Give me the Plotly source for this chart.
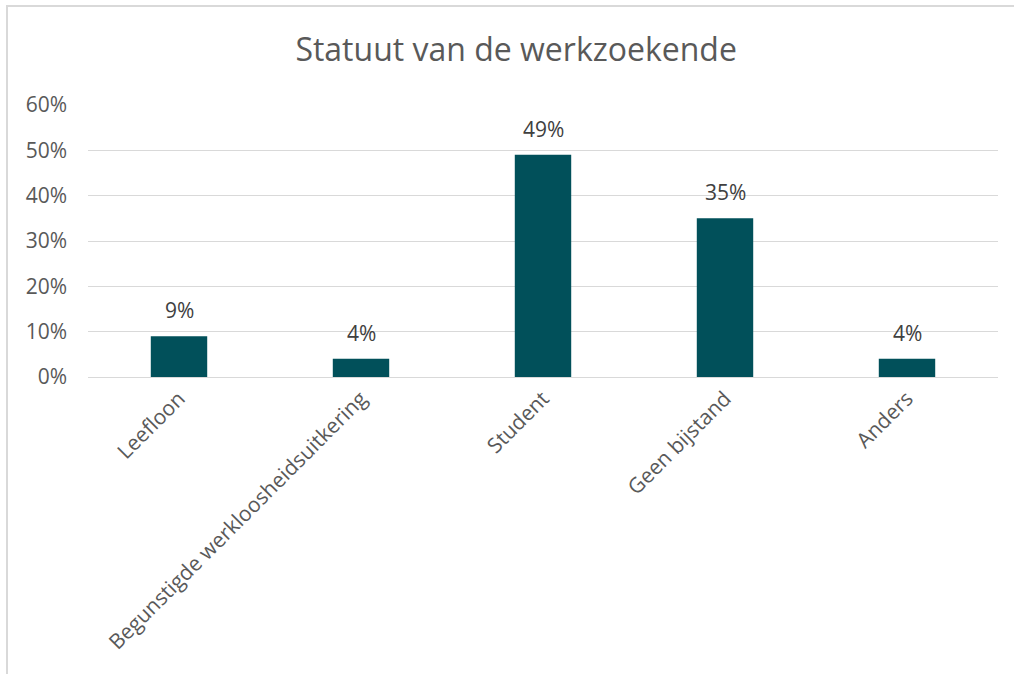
import plotly.graph_objects as go

categories = ["Leefloon", "Begunstigde werkloosheidsuitkering", "Student", "Geen bijstand", "Anders"]
values = [0.09, 0.04, 0.49, 0.35, 0.04]
labels = ["9%", "4%", "49%", "35%", "4%"]
tick_vals = [0, 0.1, 0.2, 0.3, 0.4, 0.5, 0.6]
tick_text = ["0%", "10%", "20%", "30%", "40%", "50%", "60%"]

FONT = "'Open Sans', sans-serif"
GRAY = "#595959"

fig = go.Figure(go.Bar(
    x=categories, y=values,
    marker=dict(color="#01505A", line=dict(width=0)),
    hoverinfo="skip",
))

annotations = [
    dict(x=c, y=v, text=t, xref="x", yref="y", showarrow=False, yanchor="bottom",
         yshift=10, font=dict(size=21, color="#404040", family=FONT))
    for c, v, t in zip(categories, values, labels)
]

fig.update_layout(
    width=1014, height=674,
    paper_bgcolor="white", plot_bgcolor="white",
    margin=dict(l=88, r=16, t=105, b=297),
    bargap=0.69,
    title=dict(text="Statuut van de werkzoekende", x=0.509, xanchor="center", y=0.926, yanchor="middle",
               font=dict(size=32, color=GRAY, family=FONT)),
    font=dict(family=FONT, color=GRAY),
    showlegend=False,
    annotations=annotations,
    xaxis=dict(tickangle=-45, tickfont=dict(size=21, color=GRAY), showline=True,
               linecolor="#D9D9D9", linewidth=1, ticks="", automargin=False),
    yaxis=dict(range=[0, 0.6], tickvals=tick_vals, ticktext=tick_text,
               tickfont=dict(size=21, color=GRAY), gridcolor="#D9D9D9", gridwidth=1,
               zeroline=False, ticks="", ticklabelstandoff=20, automargin=False),
    shapes=[dict(type="rect", xref="paper", yref="paper",
                 x0=-81/910, x1=1.2, y0=-1.5, y1=1 + 99/272,
                 line=dict(color="#D9D9D9", width=2), fillcolor="rgba(0,0,0,0)", layer="below")],
)

fig.write_html("out.html", config={"displayModeBar": False},
               post_script="document.body.style.margin='0';document.body.style.padding='0';")
